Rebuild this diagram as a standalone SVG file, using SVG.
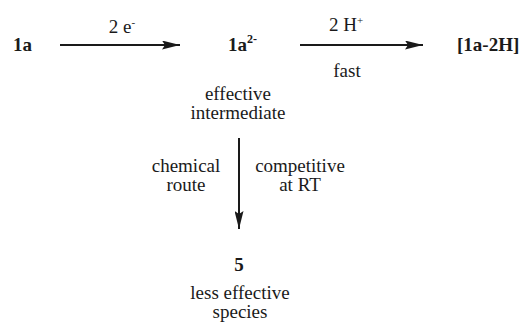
<svg xmlns="http://www.w3.org/2000/svg" width="526" height="329" viewBox="0 0 526 329">
<style>
text{font-family:'Liberation Serif','DejaVu Serif',serif;font-size:19px;fill:#1a1a1a}
.b{font-weight:bold}
.m{text-anchor:middle}
.ln{stroke:#1a1a1a;stroke-width:2;fill:none}
</style>
<defs>
<marker id="ah" viewBox="0 0 18 9" refX="18" refY="4.5" markerWidth="18" markerHeight="9" markerUnits="userSpaceOnUse" orient="auto">
<path d="M0,0 L18,4.5 L0,9 L3,4.5 Z" fill="#1a1a1a"/>
</marker>
</defs>
<rect width="526" height="329" fill="#fff"/>
<g id="connectors">
<line class="ln" x1="60" y1="45" x2="180" y2="45" marker-end="url(#ah)"/>
<text class="m" x="122" y="33">2 e<tspan dy="-7" font-size="11">-</tspan></text>
<line class="ln" x1="300" y1="45" x2="423" y2="45" marker-end="url(#ah)"/>
<text class="m" x="346" y="31">2 H<tspan dy="-7" font-size="11">+</tspan></text>
<text class="m" x="347" y="77">fast</text>
<line class="ln" x1="239" y1="138" x2="239" y2="229" marker-end="url(#ah)"/>
<text class="m" x="186" y="172">chemical</text>
<text class="m" x="186" y="191">route</text>
<text class="m" x="300" y="172">competitive</text>
<text class="m" x="300" y="191">at RT</text>
</g>
<g id="n1a"><text class="b" x="13" y="51">1a</text></g>
<g id="n1a2"><text class="b" x="228" y="51">1a<tspan dy="-8" font-size="12">2-</tspan></text>
<text class="m" x="238" y="100">effective</text>
<text class="m" x="238" y="119">intermediate</text></g>
<g id="n1a2H"><text class="b" x="457" y="51">[1a-2H]</text></g>
<g id="n5"><text class="b m" x="239" y="271">5</text>
<text class="m" x="240" y="299">less effective</text>
<text class="m" x="240" y="318">species</text></g>
</svg>
